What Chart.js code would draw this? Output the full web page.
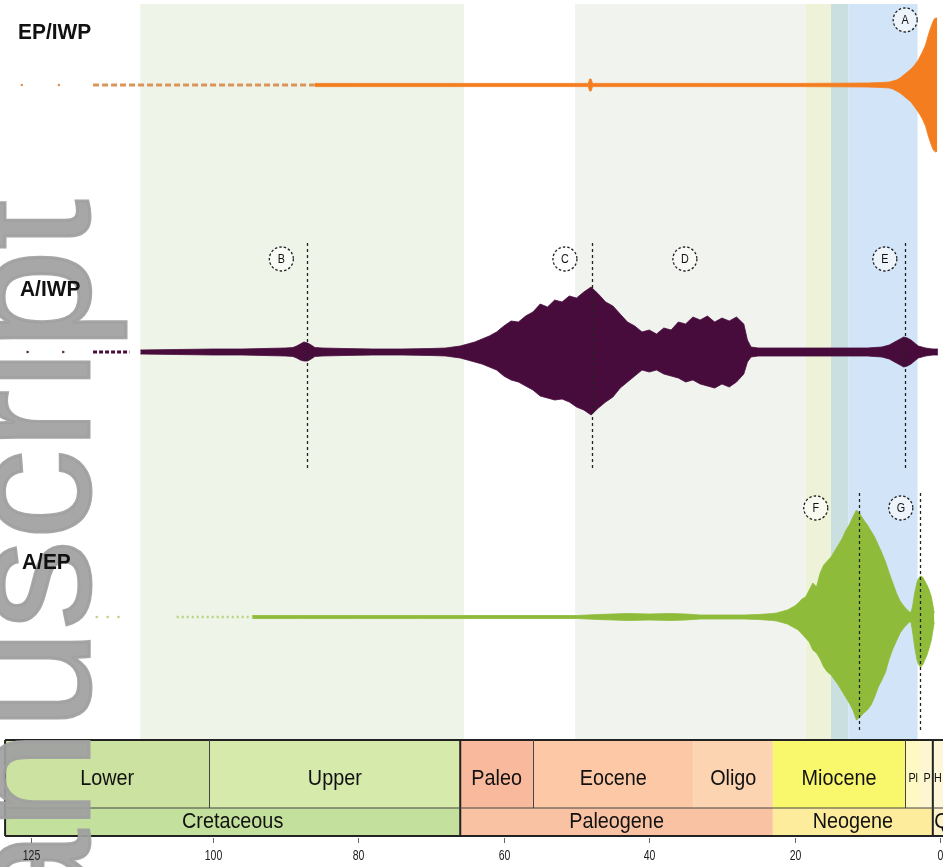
<!DOCTYPE html>
<html>
<head>
<meta charset="utf-8">
<script src="https://cdn.jsdelivr.net/npm/chart.js@4.4.1/dist/chart.umd.min.js"></script>
<style>
  html, body { margin: 0; padding: 0; background: #fff; }
  #wrap { position: relative; width: 943px; height: 867px; }
</style>
</head>
<body>
<div id="wrap"><canvas id="spindles"></canvas></div>
<script>
// ---- values: ages in Ma, half-widths of each spindle ----
const tickValues = [125, 100, 80, 60, 40, 20, 0]

// EP/IWP (orange)
const epAge = [86, 80, 74, 68, 62, 56, 50, 48.4, 48.2, 48.0, 47.8, 44, 38, 32, 26, 20, 14, 10,
  8, 7, 6.5, 6, 5.5, 5, 4.5, 4, 3.5, 3, 2.5, 2, 1.7, 1.4, 1.2, 1.0, 0.8, 0.6, 0.4]
const epUpper = [1.6, 1.6, 1.6, 1.6, 1.6, 1.6, 1.6, 1.6, 6, 6, 1.6, 1.6, 1.6, 1.6, 1.6, 1.6, 1.8, 2,
  2.5, 3, 4, 5, 7, 10, 13, 16, 20, 25, 32, 40, 48, 55, 59, 63, 66, 67, 67]
const epLower = [1.6, 1.6, 1.6, 1.6, 1.6, 1.6, 1.6, 1.6, 6, 6, 1.6, 1.6, 1.6, 1.6, 1.6, 1.6, 1.8, 2,
  2.5, 3, 4, 6, 8, 11, 14, 17, 22, 27, 33, 41, 49, 56, 60, 64, 66, 67, 66]
const epDots = [126.3, 121.2]
const epDashed = [116.5, 86]

// A/IWP (purple)
const aiwpAge = [110, 105, 100, 96, 93, 90, 89, 88.5, 88, 87.5, 87, 86.5, 86, 85, 82, 78, 74, 70, 68, 67, 66,
  65, 64, 63, 62, 61, 60, 59, 58, 57, 56, 55, 54, 53, 52, 51, 50, 49, 48, 47, 46, 45, 44, 43, 42, 41,
  40, 39, 38, 37, 36, 35, 34, 33, 32, 31, 30, 29, 28, 27, 26.5, 26,
  25, 20, 15, 10, 8, 7, 6.5, 6, 5.5, 5, 4.5, 4, 3.5, 3, 2.5, 2, 1, 0.3]
const aiwpUpper = [2, 2.5, 3, 3, 3.5, 4, 4.5, 6, 8, 10, 9, 7, 4.5, 4, 3.5, 3, 3, 3.5, 4, 5, 6,
  8, 10, 13, 16, 20, 26, 31, 30, 36, 40, 48, 45, 52, 50, 56, 54, 60, 65, 58, 50, 46, 38, 30, 26, 20,
  22, 18, 24, 22, 30, 28, 35, 32, 36, 30, 34, 31, 35, 28, 12, 5,
  4, 4, 4, 4, 5, 7, 9, 11, 13, 15, 14, 12, 9, 6, 5, 4, 3, 3]
const aiwpLower = [2, 2.5, 3, 3, 3.5, 4, 4.5, 6, 8, 9, 9, 7, 4.5, 4, 3.5, 3, 3, 3.5, 4, 5, 6,
  8, 10, 12, 15, 18, 24, 28, 30, 34, 38, 44, 46, 48, 47, 50, 55, 58, 63, 56, 50, 45, 36, 30, 24, 18,
  20, 18, 22, 24, 26, 30, 28, 32, 34, 36, 32, 35, 30, 22, 10, 5,
  4, 4, 4, 4, 5, 7, 9, 11, 13, 15, 14, 12, 9, 6, 5, 4, 3, 3]
const aiwpDots = [125.5, 120.6]
const aiwpDashed = [116.5, 111.5]

// A/EP (green)
const aepAge = [94.6, 88, 80, 72, 64, 56, 50, 47, 45, 43, 40, 37, 35, 33, 30, 27, 25,
  24, 23, 22.5, 22, 21.5, 21, 20.5, 20, 19.5, 19, 18.5, 18, 17.5, 17, 16.5, 16, 15.5, 15, 14.5, 14,
  13.5, 13, 12.5, 12, 11.5, 11, 10.5, 10, 9.5, 9, 8.5, 8, 7.5, 7, 6.5, 6, 5.5, 5, 4.5, 4.2,
  4.0, 3.8, 3.5, 3.2, 3.0, 2.7, 2.4, 2.1, 1.8, 1.5, 1.2, 1.0, 0.8]
const aepUpper = [1.5, 1.5, 1.5, 1.5, 1.5, 1.5, 1.5, 2.5, 3, 3.5, 3, 3.5, 3, 2, 2, 2, 2.5,
  3, 3.5, 4, 5, 6, 7, 9, 11, 14, 18, 20, 27, 34, 30, 44, 52, 56, 60, 66, 72,
  78, 86, 92, 100, 107, 103, 97, 92, 86, 80, 72, 64, 55, 44, 34, 24, 16, 11, 7, 5,
  5, 10, 24, 34, 38, 41, 40, 36, 32, 27, 20, 12, 4]
const aepLower = [1.5, 1.5, 1.5, 1.5, 1.5, 1.5, 1.5, 2.5, 3, 3.5, 3, 3.5, 3, 2, 2, 2, 2.5,
  3, 3.5, 4, 5, 6, 7, 9, 11, 13, 17, 21, 25, 33, 36, 42, 50, 55, 58, 63, 68,
  74, 80, 86, 93, 103, 100, 96, 93, 88, 80, 70, 63, 55, 42, 32, 24, 16, 11, 7, 5,
  5, 14, 30, 42, 47, 50, 48, 43, 38, 31, 23, 14, 5]
const aepDots = [116, 114.5, 113]
const aepDashed = [105, 94.6]

// event circles and lines
const markerLetters = ['A', 'B', 'C', 'D', 'E', 'F', 'G']
const markerAges = [4.8, 90.6, 51.6, 35.1, 7.6, 17.1, 5.4]
const markerPanel = [0, 1, 1, 1, 1, 2, 2]
const eventAges = [87.1, 47.9, 4.8, 11.1, 2.75]
const eventPanel = [1, 1, 1, 2, 2]

// shaded intervals behind the spindles
const bandOld = [110, 50.2, 18.5, 15, 12.6]
const bandYoung = [65.5, 18.5, 15, 12.6, 3.1]
const bandColors = ['#eef4e8', '#f1f3ee', '#edf2d8', '#c9dfe0', '#d2e4f7']

// geological timescale
const epochNames = ['Lower', 'Upper', 'Paleo', 'Eocene', 'Oligo', 'Miocene', 'Pl', 'P', 'H']
const epochOld = [128.6, 100.5, 66, 56, 33.9, 23, 4.8, 2.6, 1.0]
const epochYoung = [100.5, 66, 56, 33.9, 23, 4.8, 2.6, 1.0, -0.5]
const epochColors = ['#cbe2a0', '#d6eaab', '#f9b99c', '#fcc8a6', '#fdd4b1', '#f9f86c', '#fdf8c4', '#fef6d2', '#fef6d8']
const periodNames = ['Cretaceous', 'Paleogene', 'Neogene', 'Q']
const periodOld = [128.6, 66, 23, 1.0]
const periodYoung = [66, 23, 1.0, -0.5]
const periodColors = ['#c3e09c', '#f9c3a3', '#fcec9c', '#fef3c8']
const epochLines = [100.5, 56, 4.8]
const periodLines = [128.6, 66, 1.0]

// ---- layout ----
const W = 943, H = 867
const TS_TOP = 740, TS_MID = 808, TS_BOT = 836
const panelNames = ['EP/IWP', 'A/IWP', 'A/EP']
const panelCentre = [85, 352, 617]
const panelLabelPos = [[18, 33], [20, 290], [22, 563]]
const circleY = [20, 259, 508]
const eventTop = [0, 243, 493]
const eventBottom = [0, 470, 733]
const axisIds = ['yEP', 'yAI', 'yAE']
const colors = ['#f47e1f', '#470b3c', '#8fbb3a']
const earlyColors = ['#d9955a', '#5a2a50', '#b9d27e']

function panelAxis(centre) {
  // one unit of half-width = one pixel, zero on the panel's centre line
  return { type: 'linear', display: false, min: centre - H, max: centre }
}

function spindle(ages, upper, lower, color, axis) {
  return [
    { data: ages.map((a, i) => ({ x: a, y: upper[i] })), borderColor: color, borderWidth: 0.8,
      fill: false, yAxisID: axis, pointRadius: 0 },
    { data: ages.map((a, i) => ({ x: a, y: -lower[i] })), borderColor: color, borderWidth: 0.8,
      backgroundColor: color, fill: '-1', yAxisID: axis, pointRadius: 0 }
  ]
}

function earlyTrace(range, color, dash, axis, width) {
  return { data: range.map(a => ({ x: a, y: 0 })), borderColor: color, borderWidth: width,
    borderDash: dash, fill: false, yAxisID: axis, pointRadius: 0 }
}

function earlyDots(ages, color, axis) {
  return { data: ages.map(a => ({ x: a, y: 0 })), showLine: false, pointStyle: 'rect',
    pointRadius: 1.6, pointBackgroundColor: color, pointBorderWidth: 0, yAxisID: axis }
}

function squeezed(ctx, text, cx, cy, font, sx) {
  ctx.save()
  ctx.translate(cx, cy)
  ctx.scale(sx, 1)
  ctx.font = font
  ctx.textAlign = 'center'
  ctx.textBaseline = 'middle'
  ctx.fillText(text, 0, 0)
  ctx.restore()
}

const decor = {
  id: 'decor',
  beforeDraw(chart) {
    const { ctx } = chart
    const x = chart.scales.x
    ctx.save()
    bandOld.forEach((a, i) => {
      const x0 = x.getPixelForValue(a), x1 = x.getPixelForValue(bandYoung[i])
      ctx.fillStyle = bandColors[i]
      ctx.fillRect(x0, 4, x1 - x0, TS_TOP - 4)
    })
    ctx.restore()
  },
  afterDatasetsDraw(chart) {
    const { ctx } = chart
    const x = chart.scales.x
    ctx.save()

    // timescale boxes
    epochNames.forEach((n, i) => {
      const x0 = x.getPixelForValue(epochOld[i]), x1 = x.getPixelForValue(epochYoung[i])
      ctx.fillStyle = epochColors[i]
      ctx.fillRect(x0, TS_TOP, x1 - x0, TS_MID - TS_TOP)
    })
    periodNames.forEach((n, i) => {
      const x0 = x.getPixelForValue(periodOld[i]), x1 = x.getPixelForValue(periodYoung[i])
      ctx.fillStyle = periodColors[i]
      ctx.fillRect(x0, TS_MID, x1 - x0, TS_BOT - TS_MID)
    })
    const left = x.getPixelForValue(epochOld[0])
    ctx.strokeStyle = '#222'
    ctx.lineWidth = 2
    ctx.beginPath()
    ctx.moveTo(left, TS_TOP); ctx.lineTo(W, TS_TOP)
    ctx.moveTo(left, TS_BOT); ctx.lineTo(W, TS_BOT)
    periodLines.forEach(a => {
      const px = x.getPixelForValue(a)
      ctx.moveTo(px, TS_TOP); ctx.lineTo(px, TS_BOT)
    })
    ctx.stroke()
    ctx.lineWidth = 1
    ctx.strokeStyle = '#444'
    ctx.beginPath()
    ctx.moveTo(left, TS_MID); ctx.lineTo(W, TS_MID)
    epochLines.forEach(a => {
      const px = Math.round(x.getPixelForValue(a)) + 0.5
      ctx.moveTo(px, TS_TOP); ctx.lineTo(px, TS_MID)
    })
    ctx.stroke()

    // watermark
    ctx.save()
    ctx.translate(89, 1080)
    ctx.rotate(-Math.PI / 2)
    ctx.font = '180px "Liberation Sans", Arial, sans-serif'
    ctx.textAlign = 'left'
    ctx.textBaseline = 'alphabetic'
    ctx.fillStyle = 'rgba(160,160,160,0.92)'
    ctx.strokeStyle = 'rgba(160,160,160,0.92)'
    ctx.lineWidth = 3
    ctx.fillText('manuscript', 0, 0)
    ctx.strokeText('manuscript', 0, 0)
    ctx.restore()

    // timescale labels
    ctx.fillStyle = '#111'
    epochNames.forEach((n, i) => {
      const x0 = Math.max(0, x.getPixelForValue(epochOld[i]))
      const x1 = Math.min(W, x.getPixelForValue(epochYoung[i]))
      const small = x1 - x0 < 30
      squeezed(ctx, n, (x0 + x1) / 2, 779, (small ? '12px' : '22px') + ' "Liberation Sans", Arial, sans-serif', 0.9)
    })
    periodNames.forEach((n, i) => {
      const x0 = Math.max(0, x.getPixelForValue(periodOld[i]))
      const x1 = Math.min(W, x.getPixelForValue(periodYoung[i]))
      squeezed(ctx, n, (x0 + x1) / 2 + (i === 3 ? 4 : 0), 822, '22px "Liberation Sans", Arial, sans-serif', 0.9)
    })

    // age ticks
    ctx.strokeStyle = '#666'
    ctx.lineWidth = 1
    ctx.fillStyle = '#222'
    tickValues.forEach(v => {
      const px = Math.round(x.getPixelForValue(v)) + 0.5
      ctx.beginPath(); ctx.moveTo(px, 838); ctx.lineTo(px, 843); ctx.stroke()
      squeezed(ctx, String(v), px, 856, '15px "Liberation Sans", Arial, sans-serif', 0.7)
    })

    // event lines
    ctx.strokeStyle = '#222'
    ctx.lineWidth = 1.3
    ctx.setLineDash([3, 3])
    eventAges.forEach((a, i) => {
      const px = Math.round(x.getPixelForValue(a)) + 0.5
      const p = eventPanel[i]
      ctx.beginPath(); ctx.moveTo(px, eventTop[p]); ctx.lineTo(px, eventBottom[p]); ctx.stroke()
    })

    // event circles
    ctx.lineWidth = 1.3
    ctx.setLineDash([2.5, 2])
    markerLetters.forEach((l, i) => {
      const cx = x.getPixelForValue(markerAges[i]), cy = circleY[markerPanel[i]]
      ctx.fillStyle = 'rgba(255,255,255,0.6)'
      ctx.beginPath(); ctx.arc(cx, cy, 12, 0, Math.PI * 2); ctx.fill(); ctx.stroke()
      ctx.fillStyle = '#111'
      squeezed(ctx, l, cx, cy + 1, '12px "Liberation Sans", Arial, sans-serif', 0.9)
    })
    ctx.setLineDash([])

    // panel labels
    ctx.fillStyle = '#111'
    panelNames.forEach((n, i) => {
      ctx.save()
      ctx.translate(panelLabelPos[i][0], panelLabelPos[i][1])
      ctx.scale(0.95, 1)
      ctx.font = 'bold 22px "Liberation Sans", Arial, sans-serif'
      ctx.textAlign = 'left'
      ctx.textBaseline = 'middle'
      ctx.fillText(n, 0, 0)
      ctx.restore()
    })
    ctx.restore()
  }
}

const datasets = [
  earlyDots(epDots, earlyColors[0], axisIds[0]),
  earlyTrace(epDashed, earlyColors[0], [6, 3], axisIds[0], 3),
  ...spindle(epAge, epUpper, epLower, colors[0], axisIds[0]),
  earlyDots(aiwpDots, earlyColors[1], axisIds[1]),
  earlyTrace(aiwpDashed, colors[1], [4, 2], axisIds[1], 3),
  ...spindle(aiwpAge, aiwpUpper, aiwpLower, colors[1], axisIds[1]),
  earlyDots(aepDots, earlyColors[2], axisIds[2]),
  earlyTrace(aepDashed, earlyColors[2], [2, 3], axisIds[2], 2.5),
  ...spindle(aepAge, aepUpper, aepLower, colors[2], axisIds[2])
]

new Chart(document.getElementById('spindles'), {
  type: 'line',
  data: { datasets },
  options: {
    responsive: true,
    maintainAspectRatio: false,
    animation: false,
    layout: { padding: 0, autoPadding: false },
    elements: { line: { tension: 0 }, point: { radius: 0 } },
    plugins: { legend: { display: false }, tooltip: { enabled: false } },
    scales: {
      x: { type: 'linear', min: -0.4, max: 129.3, reverse: true, display: false },
      yEP: panelAxis(panelCentre[0]),
      yAI: panelAxis(panelCentre[1]),
      yAE: panelAxis(panelCentre[2])
    }
  },
  plugins: [decor]
})
</script>
</body>
</html>
